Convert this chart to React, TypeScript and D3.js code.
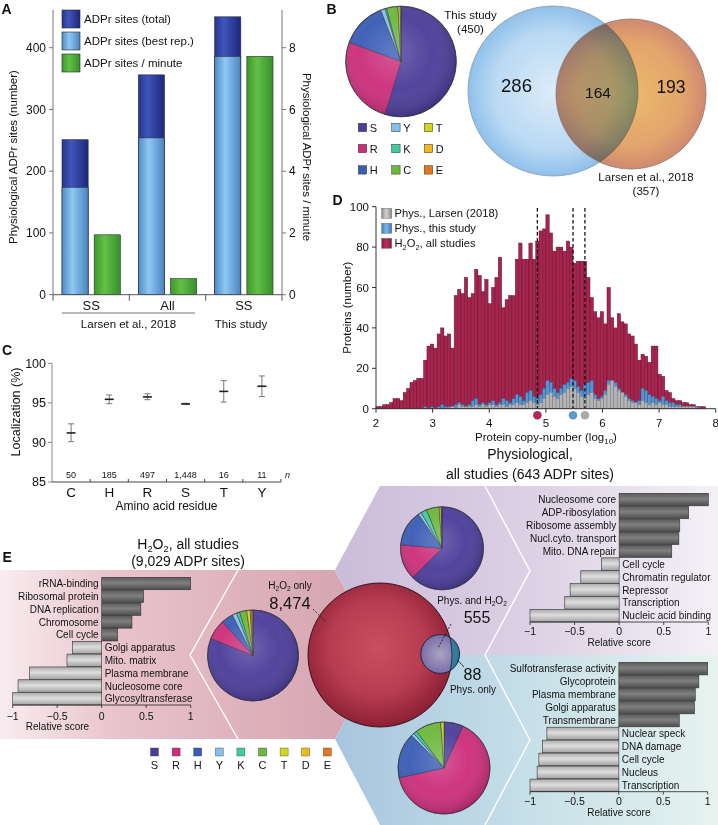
import React from 'react';
import * as d3 from 'd3';

const FONT = "'Liberation Sans', Arial, Helvetica, sans-serif";

// ---------- Panel A ----------
const groupLabelsA = ['SS', 'All', 'SS'];
const sitesTotal = [251, 356, 450];
const sitesBestRep = [174, 254, 386];
const sitesPerMinute = [1.94, 0.52, 7.72];
const legendA = ['ADPr sites (total)', 'ADPr sites (best rep.)', 'ADPr sites / minute'];
const ticksALeft = [0, 100, 200, 300, 400];
const ticksARight = [0, 2, 4, 6, 8];

// ---------- Residues ----------
const residues = ['S', 'R', 'H', 'Y', 'K', 'C', 'T', 'D', 'E'];
const residueColors = ['#4b3d9a', '#cc2e7a', '#3a5cb5', '#86c0ec', '#3fcb9c', '#6cb83a', '#cdd51c', '#f2b91a', '#e2781a'];

// ---------- Panel B ----------
const pieThisStudy = [246, 117, 60, 6, 2, 15, 3, 1, 0];
const vennCounts = [286, 164, 193];

// ---------- Panel C ----------
const aaC = ['C', 'H', 'R', 'S', 'T', 'Y'];
const locMean = [91.2, 95.45, 95.75, 94.87, 96.45, 97.1];
const locLow = [90.1, 94.9, 95.4, 94.8, 95.1, 95.8];
const locHigh = [92.35, 96.0, 96.15, 94.95, 97.8, 98.4];
const locN = ['50', '185', '497', '1,448', '16', '11'];
const ticksC = [85, 90, 95, 100];

// ---------- Panel D ----------
const dBinWidth = 0.06;
const dH2O2 = [1, 1, 2, 2, 3, 5, 5, 4, 8, 10,
  13, 14, 15, 15, 24, 31, 32, 30, 37, 40,
  36, 37, 30, 56, 59, 57, 65, 55, 57, 69,
  66, 58, 64, 52, 60, 65, 75, 50, 54, 56,
  56, 74, 82, 74, 74, 82, 74, 83, 88, 89,
  96, 87, 78, 80, 80, 78, 83, 80, 72, 73,
  73, 73, 65, 55, 48, 45, 48, 42, 60, 45,
  40, 47, 43, 42, 37, 36, 32, 24, 27, 26,
  23, 31, 31, 17, 16, 9, 8, 5, 4, 4,
  3, 3, 2, 2, 1, 1, 1];
const dThisStudy = [0, 0, 0, 0, 0, 0, 0, 0, 0, 0,
  0, 0, 0, 0, 1, 0, 1, 0, 1, 2,
  1, 1, 1, 2, 3, 2, 1, 2, 4, 5,
  2, 3, 2, 3, 4, 2, 3, 5, 4, 3,
  5, 7, 6, 4, 8, 9, 6, 5, 7, 10,
  14, 13, 10, 8, 10, 12, 13, 15, 14, 11,
  9, 12, 13, 14, 7, 5, 6, 9, 14, 12,
  13, 10, 8, 7, 5, 4, 3, 4, 10, 9,
  7, 6, 5, 4, 6, 4, 3, 3, 2, 2,
  1, 1, 1, 0, 1, 0, 0];
const dLarsen = [0, 0, 0, 0, 0, 0, 0, 0, 0, 0,
  0, 0, 0, 0, 0, 0, 0, 0, 0, 0,
  0, 0, 1, 0, 2, 1, 1, 1, 1, 2,
  1, 2, 1, 2, 2, 1, 2, 2, 1, 2,
  2, 3, 2, 2, 3, 4, 3, 2, 3, 5,
  7, 8, 6, 5, 7, 8, 10, 11, 10, 8,
  6, 5, 7, 8, 5, 4, 5, 7, 12, 14,
  11, 9, 8, 6, 4, 3, 3, 2, 4, 3,
  2, 3, 2, 3, 2, 2, 1, 1, 1, 1,
  1, 1, 1, 1, 0, 0, 0];
const dMedians = [4.85, 5.48, 5.69];
const dMedianColors = ['#b02a55', '#5a9ad6', '#aaaaaa'];
const dTicksX = [2, 3, 4, 5, 6, 7, 8];
const dTicksY = [0, 20, 40, 60, 80, 100];

// ---------- Panel E ----------
const h2o2Terms = ['rRNA-binding', 'Ribosomal protein', 'DNA replication', 'Chromosome', 'Cell cycle', 'Golgi apparatus', 'Mito. matrix', 'Plasma membrane', 'Nucleosome core', 'Glycosyltransferase'];
const h2o2Scores = [1.0, 0.47, 0.44, 0.34, 0.18, -0.33, -0.39, -0.81, -0.94, -1.0];
const physAllTerms = ['Nucleosome core', 'ADP-ribosylation', 'Ribosome assembly', 'Nucl.cyto. transport', 'Mito. DNA repair', 'Cell cycle', 'Chromatin regulator', 'Repressor', 'Transcription', 'Nucleic acid binding'];
const physAllScores = [1.0, 0.78, 0.68, 0.67, 0.59, -0.2, -0.43, -0.55, -0.61, -1.0];
const physOnlyTerms = ['Sulfotransferase activity', 'Glycoprotein', 'Plasma membrane', 'Golgi apparatus', 'Transmembrane', 'Nuclear speck', 'DNA damage', 'Cell cycle', 'Nucleus', 'Transcription'];
const physOnlyScores = [1.0, 0.9, 0.86, 0.85, 0.68, -0.81, -0.86, -0.9, -0.92, -1.0];
const pieH2O2 = [7323, 652, 376, 150, 100, 226, 113, 50, 39];
const piePhysAll = [402, 89, 90, 8, 15, 32, 5, 1, 1];
const piePhysOnly = [6, 57, 14, 1, 1, 8, 1, 0, 0];
const overlapLabels = ['8,474', '555', '88'];
const scoreTicks = [-1, -0.5, 0, 0.5, 1];

const fmtTick = (v: number) => (v < 0 ? '\u2212' + String(Math.abs(v)) : String(v));

function Pie({ cx, cy, r, values }: { cx: number; cy: number; r: number; values: number[] }) {
  const arcs = d3.pie<number>().sort(null).value((d) => d)(values);
  const arc = d3.arc<d3.PieArcDatum<number>>().innerRadius(0).outerRadius(r);
  return (
    <g transform={`translate(${cx},${cy})`}>
      {arcs.map((a, i) => (a.value > 0 ? <path key={i} d={arc(a) || ''} fill={residueColors[i]} stroke="#22223a" strokeWidth={0.5} /> : null))}
      <circle r={r} fill="url(#pieShade)" />
      <circle r={r} fill="none" stroke="#333" strokeWidth={0.6} />
    </g>
  );
}

function H2O2Text({ x, y, size, anchor, rest, prefix = '' }: { x: number; y: number; size: number; anchor: string; rest: string; prefix?: string }) {
  const s = size * 0.66;
  const d = size * 0.22;
  return (
    <text x={x} y={y} fontSize={size} textAnchor={anchor as any}>
      {prefix}H<tspan fontSize={s} dy={d}>2</tspan><tspan dy={-d}>O</tspan><tspan fontSize={s} dy={d}>2</tspan><tspan dy={-d}>{rest}</tspan>
    </text>
  );
}

function ScoreBars(props: { terms: string[]; scores: number[]; x0: number; x1: number; y0: number; y1: number; tickBase: number; titleBase: number; titleX: number }) {
  const { terms, scores, x0, x1, y0, y1, tickBase, titleBase, titleX } = props;
  const x = d3.scaleLinear().domain([-1, 1]).range([x0, x1]);
  const y = d3.scaleBand<string>().domain(terms).range([y0, y1]).paddingInner(0.03);
  const zero = x(0);
  return (
    <g fontSize={10}>
      {terms.map((t, i) => {
        const v = scores[i];
        const xa = x(Math.min(0, v));
        const xb = x(Math.max(0, v));
        const yy = y(t) as number;
        return (
          <g key={t}>
            <rect x={xa} y={yy} width={xb - xa} height={y.bandwidth()} fill={v > 0 ? 'url(#barDark)' : 'url(#barLight)'} stroke="#333" strokeWidth={0.6} />
            <text x={v > 0 ? zero - 3 : zero + 3} y={yy + y.bandwidth() / 2} dy="0.36em" textAnchor={v > 0 ? 'end' : 'start'}>{t}</text>
          </g>
        );
      })}
      <line x1={x0} x2={x1} y1={y1} y2={y1} stroke="#222" strokeWidth={0.8} />
      {scoreTicks.map((t) => (
        <g key={t}>
          <line x1={x(t)} x2={x(t)} y1={y1} y2={y1 + 3} stroke="#222" strokeWidth={0.8} />
          <text x={x(t)} y={tickBase} textAnchor="middle" fontSize={10.5}>{fmtTick(t)}</text>
        </g>
      ))}
      <text x={titleX < 0 ? zero : titleX} y={titleBase} textAnchor="middle" fontSize={10}>Relative score</text>
    </g>
  );
}

export default function App() {
  // ----- Panel A scales -----
  const xA = d3.scaleBand<number>().domain([0, 1, 2]).range([53, 282]);
  const xA1 = d3.scaleBand<string>().domain(['sites', 'rate']).range([0, xA.bandwidth()]).paddingInner(0.1875).paddingOuter(0.28);
  const yA = d3.scaleLinear().domain([0, 400]).range([294.7, 47.7]);
  const yA2 = d3.scaleLinear().domain([0, 8]).range([294.7, 47.7]);
  const axisTopA = 10;

  // ----- Panel C scales -----
  const xC = d3.scaleBand<string>().domain(aaC).range([52, 281]);
  const yC = d3.scaleLinear().domain([85, 100]).range([482, 363.3]);

  // ----- Panel D scales -----
  const xD = d3.scaleLinear().domain([2, 8]).range([376, 715.7]);
  const yD = d3.scaleLinear().domain([0, 100]).range([408.7, 206.7]);
  const binStarts = dH2O2.map((_, i) => 2 + i * dBinWidth);

  const vennBlue = { cx: 553, cy: 91, r: 85 };
  const vennOrange = { cx: 631, cy: 94, r: 75 };

  const big = { cx: 380, cy: 655, r: 72 };
  const small = { cx: 440.2, cy: 654, r: 19.4 };

  const legendD = [
    { fill: 'url(#dGray)', label: 'Phys., Larsen (2018)' },
    { fill: 'url(#dBlue)', label: 'Phys., this study' },
    { fill: 'url(#dRed)', label: 'h2o2' },
  ];

  return (
    <svg width={718} height={825} viewBox="0 0 718 825" style={{ position: 'absolute', left: 0, top: 0, fontFamily: FONT }} fill="#111">
      <defs>
        <linearGradient id="gDark" x1="0" x2="1" y1="0" y2="0">
          <stop offset="0" stopColor="#26358f" />
          <stop offset="0.35" stopColor="#4155ba" />
          <stop offset="1" stopColor="#1c287e" />
        </linearGradient>
        <linearGradient id="gLight" x1="0" x2="1" y1="0" y2="0">
          <stop offset="0" stopColor="#4f8bca" />
          <stop offset="0.4" stopColor="#8fc8f1" />
          <stop offset="1" stopColor="#4a83c0" />
        </linearGradient>
        <linearGradient id="gGreen" x1="0" x2="1" y1="0" y2="0">
          <stop offset="0" stopColor="#3d992b" />
          <stop offset="0.4" stopColor="#62c046" />
          <stop offset="1" stopColor="#37902a" />
        </linearGradient>
        <linearGradient id="barDark" x1="0" x2="0" y1="0" y2="1">
          <stop offset="0" stopColor="#5a5a5a" />
          <stop offset="0.45" stopColor="#808080" />
          <stop offset="1" stopColor="#4c4c4c" />
        </linearGradient>
        <linearGradient id="barLight" x1="0" x2="0" y1="0" y2="1">
          <stop offset="0" stopColor="#ababab" />
          <stop offset="0.45" stopColor="#dedede" />
          <stop offset="1" stopColor="#a2a2a2" />
        </linearGradient>
        <linearGradient id="dGray" x1="0" x2="1">
          <stop offset="0" stopColor="#8d8d8d" />
          <stop offset="0.45" stopColor="#d2d2d2" />
          <stop offset="1" stopColor="#8a8a8a" />
        </linearGradient>
        <linearGradient id="dBlue" x1="0" x2="1">
          <stop offset="0" stopColor="#3c7cba" />
          <stop offset="0.45" stopColor="#7ab8ea" />
          <stop offset="1" stopColor="#3a78b6" />
        </linearGradient>
        <linearGradient id="dRed" x1="0" x2="1">
          <stop offset="0" stopColor="#8e1a40" />
          <stop offset="0.45" stopColor="#b8305c" />
          <stop offset="1" stopColor="#8a1a3e" />
        </linearGradient>
        <radialGradient id="pieShade" cx="0.45" cy="0.42" r="0.6">
          <stop offset="0" stopColor="#fff" stopOpacity="0.2" />
          <stop offset="0.55" stopColor="#fff" stopOpacity="0.04" />
          <stop offset="1" stopColor="#000" stopOpacity="0.2" />
        </radialGradient>
        <radialGradient id="vennBlueG" cx="0.5" cy="0.5" r="0.5">
          <stop offset="0" stopColor="#dcecf9" />
          <stop offset="0.7" stopColor="#b9d9f3" />
          <stop offset="1" stopColor="#8fc0ea" />
        </radialGradient>
        <radialGradient id="vennOrangeG" cx="0.5" cy="0.5" r="0.5">
          <stop offset="0" stopColor="#ecba6c" />
          <stop offset="0.7" stopColor="#e2a46c" />
          <stop offset="1" stopColor="#cf8a70" />
        </radialGradient>
        <radialGradient id="bigG" cx="0.48" cy="0.45" r="0.55">
          <stop offset="0" stopColor="#c9505f" />
          <stop offset="0.6" stopColor="#b73c50" />
          <stop offset="1" stopColor="#8c1f35" />
        </radialGradient>
        <radialGradient id="smallG" cx="0.5" cy="0.5" r="0.5">
          <stop offset="0" stopColor="#aaa4c2" />
          <stop offset="1" stopColor="#7a6ea8" />
        </radialGradient>
        <radialGradient id="smallBlueG" cx="0.3" cy="0.5" r="0.7">
          <stop offset="0" stopColor="#5ca6d6" />
          <stop offset="1" stopColor="#2d7594" />
        </radialGradient>
        <linearGradient id="pinkBg" gradientUnits="userSpaceOnUse" x1="0" x2="380" y1="0" y2="0">
          <stop offset="0" stopColor="#f8ecef" />
          <stop offset="0.3" stopColor="#e9c4cd" />
          <stop offset="0.7" stopColor="#dcafb9" />
          <stop offset="1" stopColor="#d4a3af" />
        </linearGradient>
        <linearGradient id="purpleBg" gradientUnits="userSpaceOnUse" x1="335" x2="718" y1="0" y2="0">
          <stop offset="0" stopColor="#cbbcd9" />
          <stop offset="0.5" stopColor="#dbd0e4" />
          <stop offset="1" stopColor="#f4f1f6" />
        </linearGradient>
        <linearGradient id="blueBg" gradientUnits="userSpaceOnUse" x1="335" x2="718" y1="0" y2="0">
          <stop offset="0" stopColor="#a7c5de" />
          <stop offset="0.5" stopColor="#c6dfe8" />
          <stop offset="1" stopColor="#e7f3ef" />
        </linearGradient>
        <clipPath id="bigClip"><circle cx={big.cx} cy={big.cy} r={big.r} /></clipPath>
        <clipPath id="smallClip"><circle cx={small.cx} cy={small.cy} r={small.r} /></clipPath>
      </defs>

      {/* ================= Panel A ================= */}
      <text x={1.5} y={14} fontSize={14} fontWeight="bold">A</text>
      <g fontSize={12}>
        {sitesTotal.map((v, i) => {
          const gx = xA(i) as number;
          const bx = gx + (xA1('sites') as number);
          const rx = gx + (xA1('rate') as number);
          const w = xA1.bandwidth();
          return (
            <g key={i}>
              <rect x={bx} y={yA(v)} width={w} height={yA(0) - yA(v)} fill="url(#gDark)" stroke="#2a2a2a" strokeWidth={0.6} />
              <rect x={bx} y={yA(sitesBestRep[i])} width={w} height={yA(0) - yA(sitesBestRep[i])} fill="url(#gLight)" stroke="#2a2a2a" strokeWidth={0.6} />
              <rect x={rx} y={yA2(sitesPerMinute[i])} width={w} height={yA2(0) - yA2(sitesPerMinute[i])} fill="url(#gGreen)" stroke="#2a2a2a" strokeWidth={0.6} />
            </g>
          );
        })}
        {/* left axis */}
        <line x1={53} x2={53} y1={axisTopA} y2={yA(0)} stroke="#777" strokeWidth={1} />
        {ticksALeft.map((t) => (
          <g key={t}>
            <line x1={49} x2={53} y1={yA(t)} y2={yA(t)} stroke="#777" />
            <text x={46} y={yA(t)} dy="0.35em" textAnchor="end">{t}</text>
          </g>
        ))}
        {/* right axis */}
        <line x1={282} x2={282} y1={axisTopA} y2={yA2(0)} stroke="#777" strokeWidth={1} />
        {ticksARight.map((t) => (
          <g key={t}>
            <line x1={282} x2={286} y1={yA2(t)} y2={yA2(t)} stroke="#777" />
            <text x={289} y={yA2(t)} dy="0.35em" textAnchor="start">{t}</text>
          </g>
        ))}
        {/* x axis */}
        <line x1={53} x2={282} y1={yA(0)} y2={yA(0)} stroke="#555" strokeWidth={1} />
        {[0, 1, 2, 3].map((i) => {
          const xx = i < 3 ? (xA(i) as number) : 282;
          return <line key={i} x1={xx} x2={xx} y1={yA(0)} y2={yA(0) + 6} stroke="#555" />;
        })}
        {groupLabelsA.map((g, i) => (
          <text key={i} x={(xA(i) as number) + xA.bandwidth() / 2} y={309.5} textAnchor="middle" fontSize={13}>{g}</text>
        ))}
        <line x1={61.7} x2={195} y1={313} y2={313} stroke="#777" />
        <text x={128.5} y={327.5} textAnchor="middle" fontSize={11.5}>Larsen et al., 2018</text>
        <text x={241} y={327.5} textAnchor="middle" fontSize={11.5}>This study</text>
        <text transform="translate(17,157)rotate(-90)" textAnchor="middle" fontSize={11.5}>Physiological ADPr sites (number)</text>
        <text transform="translate(303,157)rotate(90)" textAnchor="middle" fontSize={11.5}>Physiological ADPr sites / minute</text>
        {legendA.map((l, i) => (
          <g key={l}>
            <rect x={62} y={10 + i * 22} width={18} height={18} fill={['url(#gDark)', 'url(#gLight)', 'url(#gGreen)'][i]} stroke="#2a2a2a" strokeWidth={0.6} />
            <text x={84} y={10 + i * 22 + 13} fontSize={11.5}>{l}</text>
          </g>
        ))}
      </g>

      {/* ================= Panel B ================= */}
      <text x={326.5} y={14} fontSize={14} fontWeight="bold">B</text>
      <Pie cx={401} cy={61.5} r={55.3} values={pieThisStudy} />
      <g fontSize={11}>
        {residues.map((r, i) => {
          const col = Math.floor(i / 3);
          const row = i % 3;
          const sx = [358.3, 391.7, 424.3][col];
          const sy = [123.3, 144.3, 165.7][row];
          return (
            <g key={r}>
              <rect x={sx} y={sy} width={8.4} height={8.4} fill={residueColors[i]} stroke="#333" strokeWidth={0.5} />
              <text x={sx + 11.5} y={sy + 8.2}>{r}</text>
            </g>
          );
        })}
      </g>
      <circle cx={vennBlue.cx} cy={vennBlue.cy} r={vennBlue.r} fill="url(#vennBlueG)" stroke="#8797a6" strokeWidth={0.8} />
      <circle cx={vennOrange.cx} cy={vennOrange.cy} r={vennOrange.r} fill="url(#vennOrangeG)" style={{ mixBlendMode: 'multiply' }} />
      <circle cx={vennOrange.cx} cy={vennOrange.cy} r={vennOrange.r} fill="none" stroke="#8a7a70" strokeWidth={0.8} />
      <text x={516.5} y={91.7} fontSize={18.5} textAnchor="middle">{vennCounts[0]}</text>
      <text x={598} y={98.3} fontSize={15.5} textAnchor="middle">{vennCounts[1]}</text>
      <text x={671} y={93.3} fontSize={17.5} textAnchor="middle">{vennCounts[2]}</text>
      <g fontSize={11.5} textAnchor="middle">
        <text x={470.5} y={19}>This study</text>
        <text x={470.5} y={32.5}>(450)</text>
        <text x={646} y={180.5}>Larsen et al., 2018</text>
        <text x={646} y={194.5}>(357)</text>
      </g>

      {/* ================= Panel C ================= */}
      <text x={2} y={355} fontSize={14} fontWeight="bold">C</text>
      <g fontSize={12.5}>
        <line x1={52} x2={52} y1={yC(100)} y2={yC(85)} stroke="#888" />
        {ticksC.map((t) => (
          <g key={t}>
            <line x1={48} x2={52} y1={yC(t)} y2={yC(t)} stroke="#888" />
            <text x={46} y={yC(t)} dy="0.35em" textAnchor="end">{t}</text>
          </g>
        ))}
        <line x1={52} x2={281} y1={yC(85)} y2={yC(85)} stroke="#444" />
        {aaC.map((a) => (
          <line key={'t' + a} x1={(xC(a) as number) + xC.bandwidth()} x2={(xC(a) as number) + xC.bandwidth()} y1={yC(85) - 3} y2={yC(85)} stroke="#444" />
        ))}
        {aaC.map((a, i) => {
          const cx = (xC(a) as number) + xC.bandwidth() / 2;
          return (
            <g key={a}>
              <line x1={cx} x2={cx} y1={yC(locHigh[i])} y2={yC(locLow[i])} stroke="#777" strokeWidth={1} />
              <line x1={cx - 3} x2={cx + 3} y1={yC(locHigh[i])} y2={yC(locHigh[i])} stroke="#777" strokeWidth={1} />
              <line x1={cx - 3} x2={cx + 3} y1={yC(locLow[i])} y2={yC(locLow[i])} stroke="#777" strokeWidth={1} />
              <line x1={cx - 4.5} x2={cx + 4.5} y1={yC(locMean[i])} y2={yC(locMean[i])} stroke="#222" strokeWidth={1.6} />
              <text x={cx} y={478} textAnchor="middle" fontSize={9}>{locN[i]}</text>
              <text x={cx} y={496.5} textAnchor="middle" fontSize={13.5}>{a}</text>
            </g>
          );
        })}
        <text x={285} y={478} fontSize={9} fontStyle="italic">n</text>
        <text x={166.5} y={509.5} textAnchor="middle" fontSize={12}>Amino acid residue</text>
        <text transform="translate(19.5,412)rotate(-90)" textAnchor="middle">Localization (%)</text>
      </g>

      {/* ================= Panel D ================= */}
      <text x={332.5} y={205} fontSize={14} fontWeight="bold">D</text>
      <g>
        {dH2O2.map((v, i) => (v > 0 ? (
          <rect key={'r' + i} x={xD(binStarts[i])} y={yD(v)} width={xD(binStarts[i] + dBinWidth) - xD(binStarts[i])} height={yD(0) - yD(v)} fill="#a8234e" stroke="#5e1029" strokeWidth={0.45} />
        ) : null))}
        {dThisStudy.map((v, i) => (v > 0 ? (
          <rect key={'b' + i} x={xD(binStarts[i])} y={yD(v)} width={xD(binStarts[i] + dBinWidth) - xD(binStarts[i])} height={yD(0) - yD(v)} fill="#5596d2" stroke="#2f5f8e" strokeWidth={0.45} />
        ) : null))}
        {dLarsen.map((v, i) => (v > 0 ? (
          <rect key={'g' + i} x={xD(binStarts[i])} y={yD(v)} width={xD(binStarts[i] + dBinWidth) - xD(binStarts[i])} height={yD(0) - yD(v)} fill="#b4b4b4" stroke="#7a7a7a" strokeWidth={0.45} />
        ) : null))}
        {dMedians.map((m, i) => (
          <g key={'m' + i}>
            <line x1={xD(m)} x2={xD(m)} y1={208} y2={yD(0)} stroke="#111" strokeWidth={1.3} strokeDasharray="3.5,2.5" />
            <circle cx={xD(m)} cy={415.3} r={4.3} fill={dMedianColors[i]} />
          </g>
        ))}
        <line x1={376} x2={376} y1={yD(100)} y2={yD(0)} stroke="#333" />
        <line x1={376} x2={715.7} y1={yD(0)} y2={yD(0)} stroke="#333" />
        <g fontSize={11.5}>
          {dTicksY.map((t) => (
            <g key={t}>
              <line x1={372} x2={376} y1={yD(t)} y2={yD(t)} stroke="#333" />
              <text x={369} y={yD(t)} dy="0.35em" textAnchor="end">{t}</text>
            </g>
          ))}
          {dTicksX.map((t) => (
            <g key={t}>
              <line x1={xD(t)} x2={xD(t)} y1={yD(0)} y2={yD(0) + 4} stroke="#333" />
              <text x={xD(t)} y={426.5} textAnchor="middle">{t}</text>
            </g>
          ))}
          <text x={546} y={441} textAnchor="middle">Protein copy-number (log<tspan fontSize={8} dy={2.5}>10</tspan><tspan dy={-2.5}>)</tspan></text>
          <text transform={`translate(351,${yD(50)})rotate(-90)`} textAnchor="middle">Proteins (number)</text>
          {legendD.map((l, i) => (
            <g key={i}>
              <rect x={381.7} y={208.3 + i * 15} width={10} height={10} fill={l.fill} stroke="#555" strokeWidth={0.4} />
              {l.label === 'h2o2' ? (
                <H2O2Text x={394.5} y={217.3 + i * 15} size={11.2} anchor="start" rest=", all studies" />
              ) : (
                <text x={394.5} y={217.3 + i * 15} fontSize={11.2}>{l.label}</text>
              )}
            </g>
          ))}
        </g>
      </g>

      {/* ================= Panel E ================= */}
      <text x={2.5} y={562} fontSize={14} fontWeight="bold">E</text>
      <polygon points="0,570 335,570 380,655 335,739 0,739" fill="url(#pinkBg)" />
      <polygon points="335,570 380,486 718,486 718,655 380,655" fill="url(#purpleBg)" />
      <polygon points="380,655 718,655 718,825 380,825 335,739" fill="url(#blueBg)" />
      <polyline points="238,570 190,655 238,739" fill="none" stroke="#fff" strokeWidth={1.4} />
      <polyline points="485,486 530,571 485,655" fill="none" stroke="#fff" strokeWidth={1.4} />
      <polyline points="485,655 530,740 485,825" fill="none" stroke="#fff" strokeWidth={1.4} />

      <H2O2Text x={188} y={548.5} size={14} anchor="middle" rest=", all studies" />
      <text x={188} y={566} fontSize={14} textAnchor="middle">(9,029 ADPr sites)</text>
      <text x={530} y={459} fontSize={14} textAnchor="middle">Physiological,</text>
      <text x={530} y={479} fontSize={14} textAnchor="middle">all studies (643 ADPr sites)</text>

      <ScoreBars terms={h2o2Terms} scores={h2o2Scores} x0={12.7} x1={190.7} y0={577.3} y1={705} tickBase={720} titleBase={730} titleX={57.5} />
      <ScoreBars terms={physAllTerms} scores={physAllScores} x0={530} x1={708.3} y0={493.3} y1={622} tickBase={635} titleBase={645.5} titleX={-1} />
      <ScoreBars terms={physOnlyTerms} scores={physOnlyScores} x0={530} x1={707.7} y0={662.3} y1={791.7} tickBase={805} titleBase={815.5} titleX={-1} />

      <Pie cx={253} cy={655.5} r={45.5} values={pieH2O2} />
      <Pie cx={442} cy={548.3} r={41.5} values={piePhysAll} />
      <Pie cx={444} cy={768} r={46} values={piePhysOnly} />

      {/* overlap circles */}
      <circle cx={big.cx} cy={big.cy} r={big.r} fill="url(#bigG)" stroke="#2a0a12" strokeWidth={0.9} />
      <circle cx={small.cx} cy={small.cy} r={small.r} fill="url(#smallBlueG)" />
      <circle cx={small.cx} cy={small.cy} r={small.r} fill="url(#smallG)" clipPath="url(#bigClip)" />
      <circle cx={big.cx} cy={big.cy} r={big.r} fill="none" stroke="#1a1a30" strokeWidth={0.8} clipPath="url(#smallClip)" />
      <circle cx={small.cx} cy={small.cy} r={small.r} fill="none" stroke="#1a1a30" strokeWidth={0.9} />

      <H2O2Text x={290} y={589} size={10} anchor="middle" rest=" only" />
      <text x={290} y={609} fontSize={16.5} textAnchor="middle">{overlapLabels[0]}</text>
      <line x1={313} y1={609} x2={326} y2={622} stroke="#111" strokeWidth={0.8} strokeDasharray="2,1.5" />
      <H2O2Text x={472} y={603.5} size={10} anchor="middle" rest="" prefix="Phys. and " />
      <text x={477} y={623} fontSize={16} textAnchor="middle">{overlapLabels[1]}</text>
      <line x1={451} y1={624} x2={438} y2={648} stroke="#111" strokeWidth={0.8} strokeDasharray="2,1.5" />
      <text x={472.5} y={680} fontSize={16} textAnchor="middle">{overlapLabels[2]}</text>
      <text x={473} y={692.5} fontSize={10} textAnchor="middle">Phys. only</text>
      <line x1={464} y1={667} x2={457.5} y2={660} stroke="#111" strokeWidth={0.8} />

      {/* E legend */}
      <g fontSize={11}>
        {residues.map((r, i) => {
          const cx = 154.5 + i * 21.6;
          return (
            <g key={'el' + r}>
              <rect x={cx - 4} y={748} width={8} height={8} fill={residueColors[i]} stroke="#444" strokeWidth={0.4} />
              <text x={cx} y={769} textAnchor="middle">{r}</text>
            </g>
          );
        })}
      </g>
    </svg>
  );
}
